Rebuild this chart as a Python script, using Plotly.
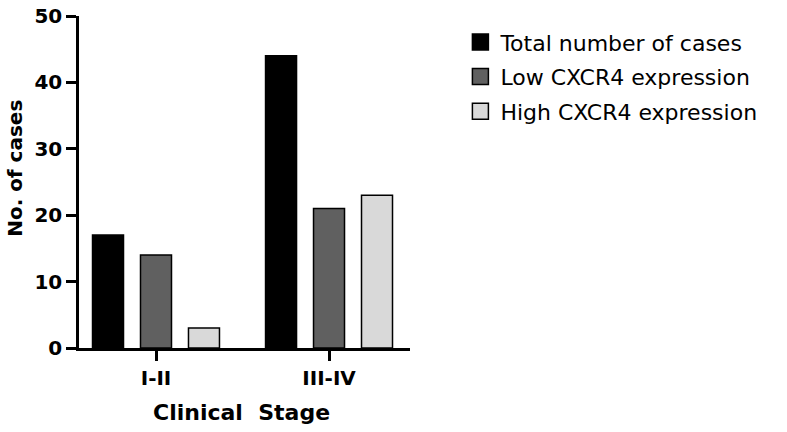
import plotly.graph_objects as go

categories = ["I-II", "III-IV"]
series_names = ["Total number of cases", "Low CXCR4 expression", "High CXCR4 expression"]
total_cases = [17, 44]
low_cxcr4 = [14, 21]
high_cxcr4 = [3, 23]
y_ticks = [0, 10, 20, 30, 40, 50]

colors = ["#000000", "#606060", "#d9d9d9"]
values = [total_cases, low_cxcr4, high_cxcr4]

FONT = "DejaVu Sans, Liberation Sans, Arial, sans-serif"

fig = go.Figure()
for name, vals, col in zip(series_names, values, colors):
    fig.add_trace(go.Bar(
        x=categories, y=vals, name=name,
        marker=dict(color=col, line=dict(color="#000000", width=1.5)),
        showlegend=False,
    ))
# legend entries with larger square symbols
for i, (name, col) in enumerate(zip(series_names, colors)):
    fig.add_trace(go.Scatter(
        x=[None], y=[None], mode="markers", name=name,
        legendgroup=f"g{i}",
        marker=dict(symbol="square", size=16, color=col,
                    line=dict(color="#000000", width=1.5)),
    ))

fig.update_layout(
    width=787, height=432,
    margin=dict(l=79, r=377, t=16, b=84, autoexpand=False),
    paper_bgcolor="white", plot_bgcolor="white",
    barmode="group", bargap=0.168, bargroupgap=0.354,
    font=dict(family=FONT, color="#000000"),
    legend=dict(
        xref="container", yref="container",
        x=0.585, y=0.951, xanchor="left", yanchor="top",
        font=dict(size=22, family=FONT, color="#000000"),
        tracegroupgap=3, itemwidth=30,
        bgcolor="rgba(0,0,0,0)",
    ),
    showlegend=True,
)
fig.update_xaxes(
    range=[-0.445, 1.468], automargin=False,
    showline=True, linecolor="#000000", linewidth=2.5,
    ticks="outside", ticklen=10, tickwidth=2.5, tickcolor="#000000",
    tickfont=dict(size=20, family=FONT, weight="bold"),
    showgrid=False, zeroline=False,
)
fig.update_yaxes(
    range=[0, 50], tickvals=y_ticks, automargin=False,
    showline=True, linecolor="#000000", linewidth=2.5,
    ticks="outside", ticklen=10, tickwidth=2.5, tickcolor="#000000",
    tickfont=dict(size=20, family=FONT, weight="bold"),
    showgrid=False, zeroline=False,
)
fig.add_annotation(
    text="No. of cases", textangle=-90,
    xref="paper", yref="paper", x=-0.193, y=0.54,
    xanchor="center", yanchor="middle", showarrow=False,
    font=dict(size=20, family=FONT, weight="bold"),
)
fig.add_annotation(
    text="Clinical&nbsp;&nbsp;Stage",
    xref="paper", yref="paper", x=0.49, y=-0.195,
    xanchor="center", yanchor="middle", showarrow=False,
    font=dict(size=22, family=FONT, weight="bold"),
)

fig.write_html(
    "out.html",
    config={"displayModeBar": False},
    post_script="document.body.style.margin='0';",
)
